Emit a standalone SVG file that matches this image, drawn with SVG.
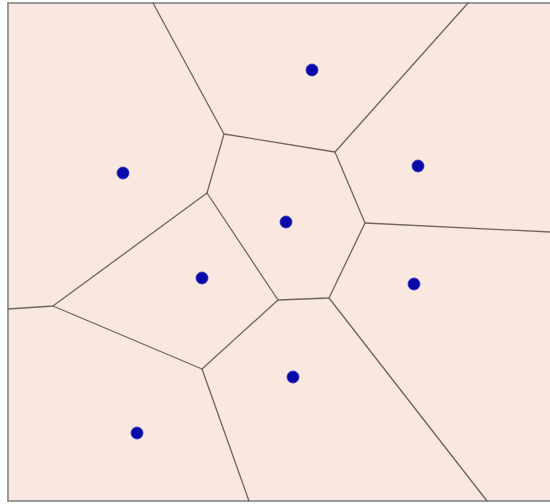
<svg xmlns="http://www.w3.org/2000/svg" width="550" height="504" viewBox="0 0 550 504">
<style>
.edge{stroke:#6e6560;stroke-width:1.3;fill:none;stroke-linejoin:round;stroke-linecap:round}
.site{fill:#0a0aa8;stroke:#3030c8;stroke-width:0.8}
</style>
<rect x="0" y="0" width="550" height="504" fill="#ffffff"/>
<rect id="frame" x="8" y="3" width="546" height="498" fill="#f9e8df" stroke="#9a9a9a" stroke-width="2"/>
<g id="connectors">
<path class="edge" d="M153,3 L224,134 L335,152 L468,3"/>
<path class="edge" d="M224,134 L207,193 L278,300 L329,298 L365,223 L335,152"/>
<path class="edge" d="M365,223 L550,232"/>
<path class="edge" d="M329,298 L487,501"/>
<path class="edge" d="M207,193 L53,306 L8,309"/>
<path class="edge" d="M53,306 L202,369 L278,300"/>
<path class="edge" d="M202,369 L249,501"/>
</g>
<g id="site-1"><circle class="site" cx="312" cy="70" r="6"/></g>
<g id="site-2"><circle class="site" cx="418" cy="166" r="6"/></g>
<g id="site-3"><circle class="site" cx="286" cy="222" r="6"/></g>
<g id="site-4"><circle class="site" cx="123" cy="173" r="6"/></g>
<g id="site-5"><circle class="site" cx="202" cy="278" r="6"/></g>
<g id="site-6"><circle class="site" cx="414" cy="284" r="6"/></g>
<g id="site-7"><circle class="site" cx="293" cy="377" r="6"/></g>
<g id="site-8"><circle class="site" cx="137" cy="433" r="6"/></g>
</svg>
